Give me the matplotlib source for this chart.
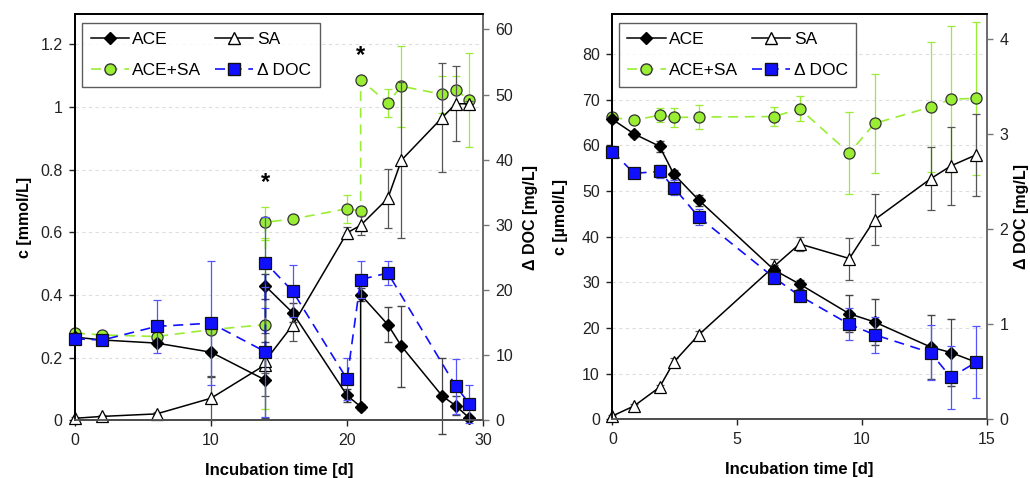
import matplotlib
matplotlib.use('Agg')
import matplotlib.pyplot as plt
from matplotlib.lines import Line2D
import numpy as np

plt.rcParams['font.family'] = ['Liberation Sans', 'DejaVu Sans']

# ---- left panel (mmol/L, day 0-30) ----
t_ace_a = [0, 2, 6, 10, 14, 14, 16, 20, 21, 21, 23, 24, 27, 28, 29]
ace_a = [0.265, 0.256, 0.246, 0.217, 0.128, 0.428, 0.343, 0.079, 0.043, 0.401, 0.305, 0.236, 0.077, 0.046, 0.006]
ace_a_err = [0.005, 0.005, 0.01, 0.08, 0.12, 0.04, 0.03, 0.02, 0.01, 0.02, 0.055, 0.13, 0.12, 0.03, 0.005]

t_sa_a = [0, 2, 6, 10, 14, 14, 16, 20, 21, 23, 24, 27, 28, 29]
sa_a = [0.006, 0.012, 0.02, 0.07, 0.177, 0.19, 0.303, 0.598, 0.622, 0.708, 0.83, 0.966, 1.01, 1.01]
sa_a_err = [0.004, 0.004, 0.005, 0.07, 0.1, 0.04, 0.05, 0.02, 0.03, 0.095, 0.25, 0.175, 0.12, 0.01]

t_sum_a = [0, 2, 6, 10, 14, 14, 16, 20, 21, 21, 23, 24, 27, 28, 29]
sum_a = [0.278, 0.272, 0.267, 0.289, 0.305, 0.632, 0.642, 0.675, 0.668, 1.086, 1.013, 1.066, 1.04, 1.054, 1.022]
sum_a_err = [0.005, 0.005, 0.01, 0.01, 0.27, 0.05, 0.01, 0.045, 0.01, 0.01, 0.045, 0.13, 0.06, 0.045, 0.15]

t_doc_a = [0, 2, 6, 10, 14, 14, 16, 20, 21, 23, 28, 29]
doc_a = [12.5, 12.3, 14.4, 14.9, 10.5, 24.2, 19.8, 6.3, 21.6, 22.6, 5.2, 2.5]
doc_a_err = [0.3, 0.3, 4.1, 9.5, 10.0, 7.0, 4.0, 3.2, 2.8, 1.9, 4.2, 2.9]

# ---- right panel (umol/L, day 0-15) ----
t_b = [0.0, 0.87, 1.89, 2.46, 3.46, 6.48, 7.5, 9.49, 10.5, 12.75, 13.56, 14.56]
ace_b = [65.7, 62.5, 59.8, 53.7, 48.0, 32.7, 29.6, 23.1, 21.3, 15.8, 14.6, 12.5]
ace_b_err = [0.5, 0.6, 1.2, 0.8, 1.2, 1.0, 1.0, 4.1, 5.0, 7.1, 7.4, 0.5]
sa_b = [0.7, 2.9, 7.0, 12.5, 18.5, 33.5, 38.4, 35.2, 43.7, 52.7, 55.5, 57.9]
sa_b_err = [0.3, 0.4, 0.5, 0.8, 0.8, 1.5, 1.5, 4.6, 5.6, 6.9, 8.5, 9.0]
sum_b = [66.1, 65.5, 66.6, 66.1, 66.2, 66.3, 68.0, 58.3, 64.8, 68.4, 70.1, 70.3]
sum_b_err = [0.5, 0.5, 1.5, 2.0, 2.7, 2.0, 2.7, 8.9, 10.8, 14.2, 16.0, 16.7]
doc_b = [2.82, 2.59, 2.61, 2.44, 2.13, 1.49, 1.30, 1.00, 0.89, 0.70, 0.44, 0.60]
doc_b_err = [0.02, 0.02, 0.07, 0.08, 0.08, 0.03, 0.03, 0.17, 0.19, 0.29, 0.33, 0.38]

GREEN = '#99ee33'
BLUE = '#1010ff'

fig = plt.figure(figsize=(10.3, 4.78), dpi=100)
ax1 = fig.add_axes([0.0728, 0.121, 0.3962, 0.850])
ax2 = fig.add_axes([0.5945, 0.123, 0.3637, 0.848])


def noclip(cont):
    for art in cont.get_children():
        art.set_clip_on(False)


def draw_panel(ax, t_ace, ace, ace_err, t_sa, sa, sa_err, t_sum, ssum, sum_err,
               t_doc, doc, doc_err, ylim, yticks, xlim, xticks, ylim2, yticks2, ylabel):
    for y in yticks[1:]:
        ax.axhline(y, color='#dddddd', lw=0.8, ls=(0, (3, 3)), zorder=0)
    axr = ax.twinx()

    cap = 3
    noclip(ax.errorbar(t_sum, ssum, yerr=sum_err, color=GREEN, ecolor=GREEN, elinewidth=0.9,
                       capsize=cap, lw=1.2, ls=(0, (6, 4)), marker='o', ms=8, mfc=GREEN,
                       mec='#333333', mew=0.9, zorder=3))
    noclip(ax.errorbar(t_sa, sa, yerr=sa_err, color='black', ecolor='#555555', elinewidth=0.9,
                       capsize=cap, lw=1.1, marker='^', ms=9, mfc='white', mec='black',
                       mew=0.9, zorder=4))
    noclip(ax.errorbar(t_ace, ace, yerr=ace_err, color='black', ecolor='#444444', elinewidth=0.9,
                       capsize=cap, lw=1.1, marker='D', ms=6.5, mfc='black', mec='black', zorder=5))
    noclip(axr.errorbar(t_doc, doc, yerr=doc_err, color=BLUE, ecolor='#5555ff', elinewidth=0.9,
                        capsize=cap, lw=1.2, ls=(0, (6, 4)), marker='s', ms=8, mfc=BLUE,
                        mec='#111111', mew=0.9, zorder=3))

    ax.set_xlim(*xlim)
    ax.set_xticks(xticks)
    ax.set_ylim(*ylim)
    ax.set_yticks(yticks)
    axr.set_ylim(*ylim2)
    axr.set_yticks(yticks2)
    ax.set_xlabel('Incubation time [d]', fontsize=12, fontweight='bold', labelpad=11)
    ax.set_ylabel(ylabel, fontsize=11.5, fontweight='bold', labelpad=6)
    axr.set_ylabel('\u0394 DOC [mg/L]', fontsize=11.5, fontweight='bold', labelpad=7)
    for a in (ax, axr):
        a.tick_params(labelsize=11.5, direction='out', length=4, width=1, pad=5,
                      colors='#222222')
        for s in a.spines.values():
            s.set_linewidth(1.3)
    axr.spines['right'].set_color('#777777')
    axr.spines['bottom'].set_color('#555555')
    axr.tick_params(axis='y', colors='#777777', labelcolor='#222222')

    # legend
    h = [Line2D([], [], color='black', lw=1.1, marker='D', ms=6.5, mfc='black'),
         Line2D([], [], color=GREEN, lw=1.2, ls=(0, (6, 4)), marker='o', ms=8, mfc=GREEN, mec='#333333'),
         Line2D([], [], color='black', lw=1.1, marker='^', ms=9, mfc='white', mec='black'),
         Line2D([], [], color=BLUE, lw=1.2, ls=(0, (6, 4)), marker='s', ms=8, mfc=BLUE, mec='#111111')]
    lab = ['ACE', 'ACE+SA', 'SA', '\u0394 DOC']
    leg = axr.legend(h, lab, ncol=2, loc='upper left', bbox_to_anchor=(0.017, 0.978),
                     borderaxespad=0, fontsize=12.5, frameon=True, fancybox=False,
                     edgecolor='#333333', handlelength=2.2, handletextpad=0.2,
                     columnspacing=0.8, borderpad=0.5, labelspacing=0.95)
    leg.get_frame().set_linewidth(1.0)
    leg.set_zorder(10)
    return axr


r1 = draw_panel(ax1, t_ace_a, ace_a, ace_a_err, t_sa_a, sa_a, sa_a_err, t_sum_a, sum_a, sum_a_err,
                t_doc_a, doc_a, doc_a_err, (0, 1.297), [0, 0.2, 0.4, 0.6, 0.8, 1.0, 1.2],
                (0, 30), [0, 10, 20, 30], (0, 62.4), [0, 10, 20, 30, 40, 50, 60], 'c [mmol/L]')
ax1.set_yticklabels(['0', '0.2', '0.4', '0.6', '0.8', '1', '1.2'])
ax1.text(14, 0.76, '*', ha='center', va='center', fontsize=17, fontweight='bold')
ax1.text(21, 1.165, '*', ha='center', va='center', fontsize=17, fontweight='bold')

r2 = draw_panel(ax2, t_b, ace_b, ace_b_err, t_b, sa_b, sa_b_err, t_b, sum_b, sum_b_err,
                t_b, doc_b, doc_b_err, (0, 88.8), [0, 10, 20, 30, 40, 50, 60, 70, 80],
                (0, 15), [0, 5, 10, 15], (0, 4.27), [0, 1, 2, 3, 4], 'c [\u00b5mol/L]')
ax2.yaxis.labelpad = 10
r2.yaxis.labelpad = 4

fig.savefig('out.png', dpi=100)
